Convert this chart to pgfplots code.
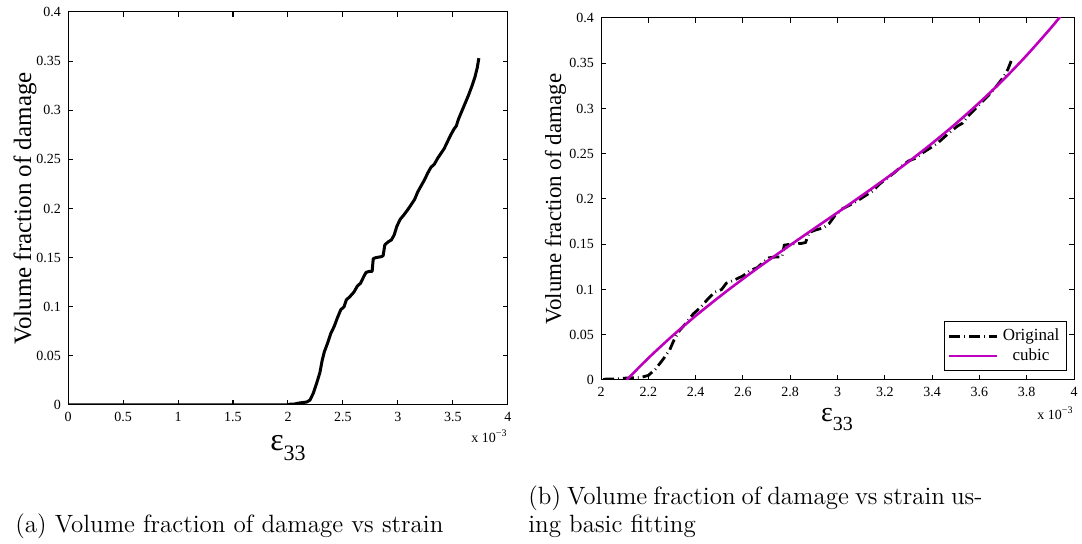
\documentclass[border=0pt]{standalone}
\usepackage{fontspec}
\usepackage{pgfplots}
\pgfplotsset{compat=1.18}
\usepackage{pgfplotstable}
\newfontfamily\tnr{Liberation Serif}
\definecolor{mag}{RGB}{190,0,190}

\pgfplotstableread{
x y
0 0
2.0 0
2.02 0.001
2.06 0.001
2.1 0.002
2.17 0.003
2.2 0.005
2.23 0.012
2.26 0.022
2.29 0.033
2.31 0.045
2.33 0.054
2.36 0.063
2.39 0.073
2.42 0.080
2.45 0.089
2.48 0.097
2.51 0.100
2.53 0.107
2.56 0.110
2.6 0.115
2.63 0.121
2.66 0.124
2.69 0.131
2.71 0.135
2.74 0.136
2.765 0.136
2.775 0.149
2.8 0.150
2.85 0.151
2.865 0.152
2.88 0.163
2.91 0.166
2.94 0.168
2.965 0.173
2.99 0.182
3.02 0.189
3.05 0.193
3.09 0.199
3.12 0.204
3.15 0.209
3.18 0.217
3.21 0.223
3.24 0.229
3.27 0.236
3.3 0.242
3.33 0.245
3.36 0.251
3.39 0.256
3.42 0.261
3.45 0.268
3.48 0.275
3.51 0.281
3.53 0.284
3.55 0.291
3.58 0.299
3.61 0.307
3.64 0.315
3.67 0.324
3.70 0.334
3.72 0.343
3.735 0.353
}\orig

\pgfplotstableread{
x y
2.108 0
2.2 0.0241
2.3 0.0483
2.4 0.0708
2.5 0.0918
2.6 0.1117
2.7 0.1307
2.8 0.1490
2.9 0.1671
3.0 0.1850
3.1 0.2032
3.2 0.2218
3.3 0.2411
3.4 0.2615
3.5 0.2832
3.6 0.3065
3.7 0.3315
3.8 0.3588
3.9 0.3883
3.95 0.4041
}\cubic

\pgfplotsset{
  mystyle/.style={
    scale only axis,
    anchor=south west,
    ymin=0, ymax=0.4,
    ytick={0,0.05,0.1,0.15,0.2,0.25,0.3,0.35,0.4},
    yticklabels={0,0.05,0.1,0.15,0.2,0.25,0.3,0.35,0.4},
    tick align=inside,
    major tick length=2.5pt,
    tick label style={font=\tnr\fontsize{7}{7}\selectfont},
    axis line style={line width=0.5pt},
    every tick/.style={black, line width=0.5pt},
    scaled ticks=false,
  }
}

\begin{document}
\begin{tikzpicture}[x=1pt,y=1pt]
\path[use as bounding box] (0,0) rectangle (541,272);

\begin{axis}[mystyle,
  at={(34pt,69.5pt)}, width=220pt, height=196.5pt,
  xmin=0, xmax=4,
  xtick={0,0.5,1,1.5,2,2.5,3,3.5,4},
  xticklabels={0,0.5,1,1.5,2,2.5,3,3.5,4},
]
\addplot[black, line width=1.5pt, line join=round] table[x=x,y=y]{\orig};
\end{axis}

\begin{axis}[mystyle,
  at={(300.5pt,82pt)}, width=236.5pt, height=181pt,
  xmin=2, xmax=4,
  xtick={2,2.2,2.4,2.6,2.8,3,3.2,3.4,3.6,3.8,4},
  xticklabels={2,2.2,2.4,2.6,2.8,3,3.2,3.4,3.6,3.8,4},
  legend style={at={(rel axis cs:0.985,0.025)}, anchor=south east,
    font=\tnr\fontsize{8.5}{9}\selectfont, draw=black, line width=0.5pt,
    inner sep=1.5pt, row sep=-1.5pt},
  legend cell align=center,
  legend image code/.code={\draw[#1] (0pt,0pt) -- (24pt,0pt);},
]
\addplot[black, line width=1.4pt, dash pattern=on 5.5pt off 2pt on 0.4pt off 2pt] table[x=x,y=y]{\orig};
\addlegendentry{Original}
\addplot[mag, line width=1.3pt, smooth] table[x=x,y=y]{\cubic};
\addlegendentry{cubic}
\end{axis}

% axis labels
\node[rotate=90, font=\tnr\fontsize{12.5}{12.5}\selectfont] at (12.5,167.75) {Volume fraction of damage};
\node[anchor=base, font=\tnr] at (144,46.5) {\fontsize{16}{16}\selectfont ε\raisebox{-5pt}{\fontsize{11}{11}\selectfont 33}};
\node[anchor=north east, inner sep=0pt, font=\tnr\fontsize{7}{7}\selectfont] at (254,57.5) {x 10\textsuperscript{−3}};

\node[rotate=90, font=\tnr\fontsize{11.5}{11.5}\selectfont] at (277.8,172.5) {Volume fraction of damage};
\node[anchor=base, font=\tnr] at (418.5,61) {\fontsize{14}{14}\selectfont ε\raisebox{-4.5pt}{\fontsize{10}{10}\selectfont 33}};
\node[anchor=north east, inner sep=0pt, font=\tnr\fontsize{7}{7}\selectfont] at (537,69) {x 10\textsuperscript{−3}};

% captions
\node[anchor=base west, inner sep=0pt, font=\fontsize{12.5}{14}\selectfont] at (7.5,5.5) {(a) Volume fraction of damage vs strain};
\node[anchor=base west, inner sep=0pt, font=\fontsize{12.5}{14}\selectfont] at (264,19.5) {\hbox to 227pt{(b) Volume fraction of damage vs strain us-}};
\node[anchor=base west, inner sep=0pt, font=\fontsize{12.5}{14}\selectfont] at (264,5.5) {ing basic fitting};
\end{tikzpicture}
\end{document}
